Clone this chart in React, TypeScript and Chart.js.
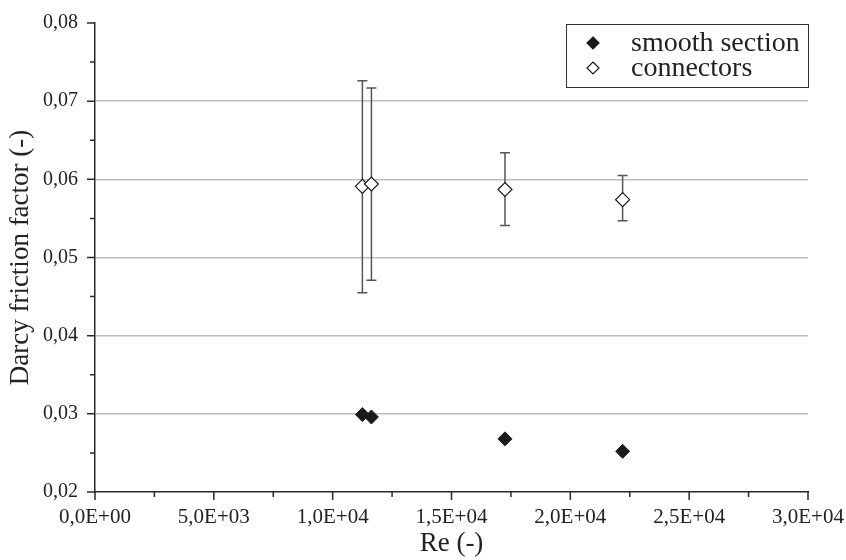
import React, { useEffect, useRef } from "react";
import { Chart, registerables } from "chart.js";

Chart.register(...registerables);

// ---- data ----
const smoothRe = [11250, 11630, 17250, 22200];
const smoothF = [0.0299, 0.0296, 0.0268, 0.0252];

const connRe = [11250, 11630, 17250, 22200];
const connF = [0.0591, 0.0594, 0.0587, 0.0574];
const connLow = [0.0455, 0.0471, 0.0541, 0.0547];
const connHigh = [0.0726, 0.0717, 0.0634, 0.0605];

const seriesLabels = ["smooth section", "connectors"];

const xTickValues = [0, 5000, 10000, 15000, 20000, 25000, 30000];
const xTickLabels = ["0,0E+00", "5,0E+03", "1,0E+04", "1,5E+04", "2,0E+04", "2,5E+04", "3,0E+04"];
const yTickValues = [0.02, 0.03, 0.04, 0.05, 0.06, 0.07, 0.08];
const yTickLabels = ["0,02", "0,03", "0,04", "0,05", "0,06", "0,07", "0,08"];

const xTitle = "Re (-)";
const yTitle = "Darcy friction factor (-)";

const FONT = "'Liberation Serif', 'Times New Roman', serif";
const AXIS_COLOR = "#2a2a2a";

const errorBarPlugin = {
  id: "errorBars",
  beforeDatasetsDraw(chart: any) {
    const { ctx, scales } = chart;
    const xs = scales.x;
    const ys = scales.y;
    ctx.save();
    ctx.strokeStyle = "#555";
    ctx.lineWidth = 1.5;
    for (let i = 0; i < connRe.length; i++) {
      const px = xs.getPixelForValue(connRe[i]);
      const pl = ys.getPixelForValue(connLow[i]);
      const ph = ys.getPixelForValue(connHigh[i]);
      ctx.beginPath();
      ctx.moveTo(px, pl);
      ctx.lineTo(px, ph);
      ctx.moveTo(px - 5, pl);
      ctx.lineTo(px + 5, pl);
      ctx.moveTo(px - 5, ph);
      ctx.lineTo(px + 5, ph);
      ctx.stroke();
    }
    ctx.restore();
  },
};

const tickMarksPlugin = {
  id: "tickMarks",
  afterDraw(chart: any) {
    const { ctx, scales, chartArea } = chart;
    const xs = scales.x;
    const ys = scales.y;
    ctx.save();
    ctx.strokeStyle = AXIS_COLOR;
    ctx.lineWidth = 1.5;
    ctx.beginPath();
    const bottom = chartArea.bottom;
    const left = chartArea.left;
    xTickValues.forEach((v, i) => {
      const p = xs.getPixelForValue(v);
      ctx.moveTo(p, bottom);
      ctx.lineTo(p, bottom + 8);
      if (i < xTickValues.length - 1) {
        const m = xs.getPixelForValue((v + xTickValues[i + 1]) / 2);
        ctx.moveTo(m, bottom);
        ctx.lineTo(m, bottom + 5);
      }
    });
    yTickValues.forEach((v, i) => {
      const p = ys.getPixelForValue(v);
      ctx.moveTo(left, p);
      ctx.lineTo(left - 8, p);
      if (i < yTickValues.length - 1) {
        const m = ys.getPixelForValue((v + yTickValues[i + 1]) / 2);
        ctx.moveTo(left, m);
        ctx.lineTo(left - 5, m);
      }
    });
    ctx.stroke();
    ctx.restore();
  },
};

function drawDiamond(ctx: CanvasRenderingContext2D, x: number, y: number, r: number, filled: boolean) {
  ctx.beginPath();
  ctx.moveTo(x, y - r);
  ctx.lineTo(x + r, y);
  ctx.lineTo(x, y + r);
  ctx.lineTo(x - r, y);
  ctx.closePath();
  ctx.fillStyle = filled ? "#1a1a1a" : "#ffffff";
  ctx.fill();
  ctx.strokeStyle = "#1a1a1a";
  ctx.lineWidth = 1.2;
  ctx.stroke();
}

const legendPlugin = {
  id: "boxLegend",
  afterDraw(chart: any) {
    const { ctx, chartArea } = chart;
    const right = chartArea.right;
    const top = chartArea.top + 1;
    const w = 242;
    const h = 63;
    const left = right - w;
    ctx.save();
    ctx.fillStyle = "#ffffff";
    ctx.fillRect(left, top, w, h);
    ctx.strokeStyle = "#333";
    ctx.lineWidth = 1;
    ctx.strokeRect(left + 0.5, top + 0.5, w, h);
    ctx.font = `28px ${FONT}`;
    ctx.textBaseline = "middle";
    ctx.textAlign = "left";
    const rows = [top + 19, top + 44];
    seriesLabels.forEach((label, i) => {
      drawDiamond(ctx, left + 27, rows[i], 6, i === 0);
      ctx.fillStyle = "#222";
      ctx.fillText(label, left + 65, rows[i] + 1);
    });
    ctx.restore();
  },
};

export default function App() {
  const canvasRef = useRef<HTMLCanvasElement | null>(null);

  useEffect(() => {
    if (!canvasRef.current) return;
    const chart = new Chart(canvasRef.current, {
      type: "scatter",
      data: {
        datasets: [
          {
            label: seriesLabels[0],
            data: smoothRe.map((x, i) => ({ x, y: smoothF[i] })),
            pointStyle: "rectRot",
            pointRadius: 7,
            pointBackgroundColor: "#1a1a1a",
            pointBorderColor: "#1a1a1a",
            pointBorderWidth: 1,
          },
          {
            label: seriesLabels[1],
            data: connRe.map((x, i) => ({ x, y: connF[i] })),
            pointStyle: "rectRot",
            pointRadius: 7,
            pointBackgroundColor: "#ffffff",
            pointBorderColor: "#1a1a1a",
            pointBorderWidth: 1.2,
          },
        ],
      },
      options: {
        animation: false,
        responsive: false,
        maintainAspectRatio: false,
        layout: { padding: { top: 23, right: 38, left: 0, bottom: 0 } },
        plugins: {
          legend: { display: false },
          tooltip: { enabled: false },
        },
        scales: {
          x: {
            type: "linear",
            min: 0,
            max: 30000,
            afterFit(scale: any) {
              scale.height = 68;
              scale.paddingLeft = 0;
              scale.paddingRight = 0;
            },
            afterBuildTicks(scale: any) {
              scale.ticks = xTickValues.map((v) => ({ value: v }));
            },
            ticks: {
              autoSkip: false,
              maxRotation: 0,
              padding: 13,
              color: "#222",
              font: { family: FONT, size: 21 },
              callback: (_v: any, i: number) => xTickLabels[i],
            },
            grid: { display: true, color: "rgba(0,0,0,0)", drawTicks: false },
            border: { display: true, color: AXIS_COLOR, width: 1.5 },
            title: {
              display: true,
              text: xTitle,
              color: "#222",
              font: { family: FONT, size: 27 },
              padding: { top: 0, bottom: 0 },
            },
          },
          y: {
            type: "linear",
            min: 0.02,
            max: 0.08,
            afterFit(scale: any) {
              scale.width = 95;
              scale.paddingTop = 0;
              scale.paddingBottom = 0;
            },
            afterBuildTicks(scale: any) {
              scale.ticks = yTickValues.map((v) => ({ value: v }));
            },
            ticks: {
              autoSkip: false,
              padding: 17,
              color: "#222",
              font: { family: FONT, size: 20 },
              callback: (_v: any, i: number) => yTickLabels[i],
            },
            grid: {
              drawTicks: false,
              color: (c: any) => {
                const v = c.tick ? c.tick.value : 0;
                return v > 0.025 && v < 0.075 ? "#bdbdbd" : "rgba(0,0,0,0)";
              },
              lineWidth: 1.5,
            },
            border: { display: true, color: AXIS_COLOR, width: 1.5 },
            title: {
              display: true,
              text: yTitle,
              color: "#222",
              font: { family: FONT, size: 27 },
              padding: { top: 5, bottom: 0 },
            },
          },
        },
      },
      plugins: [errorBarPlugin, tickMarksPlugin, legendPlugin],
    });
    return () => chart.destroy();
  }, []);

  return (
    <div style={{ position: "absolute", left: 0, top: 0, width: 846, height: 560, background: "#fff" }}>
      <canvas ref={canvasRef} width={846} height={560} style={{ width: 846, height: 560 }} />
    </div>
  );
}
